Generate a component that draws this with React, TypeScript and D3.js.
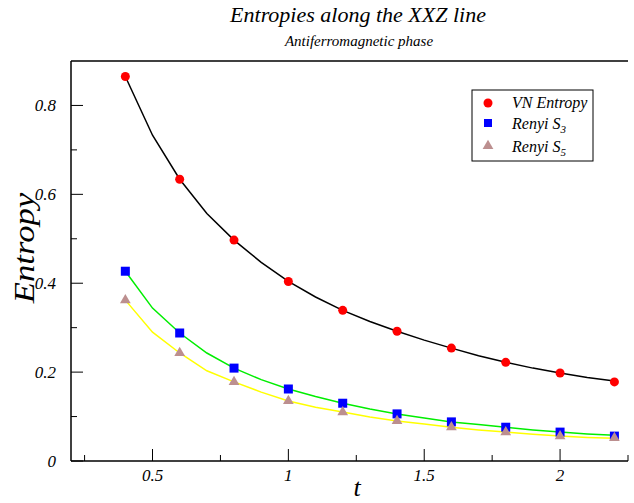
import React from 'react';
import * as d3 from 'd3';

// markers (computed points)
const markerT = [0.4, 0.6, 0.8, 1.0, 1.2, 1.4, 1.6, 1.8, 2.0, 2.2];
const vnPoints = [0.865, 0.634, 0.497, 0.404, 0.339, 0.292, 0.254, 0.222, 0.198, 0.178];
const s3Points = [0.427, 0.288, 0.209, 0.162, 0.130, 0.106, 0.088, 0.076, 0.065, 0.056];
const s5Points = [0.362, 0.243, 0.178, 0.135, 0.110, 0.090, 0.076, 0.065, 0.056, 0.052];

// curves (finer sampling)
const curveT = [0.4, 0.5, 0.6, 0.7, 0.8, 0.9, 1.0, 1.1, 1.2, 1.3, 1.4, 1.5, 1.6, 1.7, 1.8, 1.9, 2.0, 2.1, 2.2];
const vnCurve = [0.865, 0.733, 0.634, 0.557, 0.497, 0.447, 0.404, 0.369, 0.339, 0.314, 0.292, 0.272, 0.254, 0.237, 0.222, 0.209, 0.198, 0.188, 0.180];
const s3Curve = [0.427, 0.344, 0.288, 0.243, 0.209, 0.183, 0.162, 0.145, 0.130, 0.117, 0.106, 0.097, 0.088, 0.082, 0.076, 0.070, 0.065, 0.061, 0.058];
const s5Curve = [0.362, 0.290, 0.243, 0.203, 0.178, 0.155, 0.135, 0.121, 0.110, 0.099, 0.090, 0.083, 0.076, 0.070, 0.065, 0.060, 0.056, 0.053, 0.051];

const xMajor = [0.5, 1, 1.5, 2];
const xMinor = [0.25, 0.75, 1.25, 1.75, 2.25];
const yMajor = [0, 0.2, 0.4, 0.6, 0.8];
const yMinor = [0.1, 0.3, 0.5, 0.7];

const font = '"Liberation Serif", "DejaVu Serif", serif';

export default function App() {
  const left = 71, right = 628, top = 61, bottom = 461;
  const x = d3.scaleLinear().domain([0.2, 2.25]).range([left, right]);
  const y = d3.scaleLinear().domain([0, 0.9]).range([bottom, top]);

  const line = d3.line<number>().x((_, i) => x(curveT[i])).y(d => y(d));
  const tri = d3.symbol().type(d3.symbolTriangle).size(50)();

  return (
    <svg width={634} height={503} style={{ position: 'absolute', left: 0, top: 0 }} fontFamily={font}>
      <rect width={634} height={503} fill="#fff" />
      <text x={358} y={22} textAnchor="middle" fontSize={22} fontStyle="italic">Entropies along the XXZ line</text>
      <text x={359} y={46} textAnchor="middle" fontSize={15} fontStyle="italic">Antiferromagnetic phase</text>

      {/* frame */}
      <line x1={left} x2={right} y1={top} y2={top} stroke="#000" strokeWidth={1.5} />
      <line x1={left} x2={left} y1={top} y2={bottom} stroke="#000" strokeWidth={1.5} />
      <line x1={left} x2={right} y1={bottom} y2={bottom} stroke="#000" strokeWidth={1.5} />

      {/* x ticks */}
      {xMajor.map(v => (
        <g key={'xm' + v}>
          <line x1={x(v)} x2={x(v)} y1={bottom} y2={bottom - 12} stroke="#000" />
          <text x={x(v)} y={481} textAnchor="middle" fontSize={17} fontStyle="italic">{d3.format('')(v)}</text>
        </g>
      ))}
      {xMinor.map(v => (
        <line key={'xn' + v} x1={x(v)} x2={x(v)} y1={bottom} y2={bottom - 6} stroke="#000" />
      ))}
      {/* y ticks */}
      {yMajor.map(v => (
        <g key={'ym' + v}>
          <line x1={left} x2={left + 12} y1={y(v)} y2={y(v)} stroke="#000" />
          <text x={left - 15} y={y(v) + 6} textAnchor="end" fontSize={17} fontStyle="italic">{d3.format('')(v)}</text>
        </g>
      ))}
      {yMinor.map(v => (
        <line key={'yn' + v} x1={left} x2={left + 6} y1={y(v)} y2={y(v)} stroke="#000" />
      ))}

      <text x={357} y={496} textAnchor="middle" fontSize={26} fontStyle="italic">t</text>
      <text transform="translate(34,248) rotate(-90) scale(1.05,0.88)" textAnchor="middle" fontSize={33} fontStyle="italic">Entropy</text>

      {/* curves */}
      <path d={line(vnCurve) || ''} fill="none" stroke="#000" strokeWidth={1.5} />
      <path d={line(s3Curve) || ''} fill="none" stroke="#00ee00" strokeWidth={1.5} />
      <path d={line(s5Curve) || ''} fill="none" stroke="#ffff00" strokeWidth={1.5} />

      {/* markers */}
      {markerT.map((t, i) => (
        <circle key={'vn' + i} cx={x(t)} cy={y(vnPoints[i])} r={4.5} fill="#ff0000" />
      ))}
      {markerT.map((t, i) => (
        <rect key={'s3' + i} x={x(t) - 4.5} y={y(s3Points[i]) - 4.5} width={9} height={9} fill="#0000ff" />
      ))}
      {markerT.map((t, i) => (
        <path key={'s5' + i} d={tri || ''} transform={`translate(${x(t)},${y(s5Points[i])})`} fill="#bc8f8f" />
      ))}

      {/* legend */}
      <rect x={472} y={90} width={121} height={71} fill="#fff" stroke="#000" strokeWidth={1} />
      <circle cx={488} cy={103} r={4.5} fill="#ff0000" />
      <text x={512} y={108} fontSize={16} fontStyle="italic">VN Entropy</text>
      <rect x={484} y={119} width={8} height={8} fill="#0000ff" />
      <text x={512} y={129} fontSize={16} fontStyle="italic">Renyi S<tspan fontSize={11} dy={4}>3</tspan></text>
      <path d={tri || ''} transform="translate(488,146)" fill="#bc8f8f" />
      <text x={512} y={152} fontSize={16} fontStyle="italic">Renyi S<tspan fontSize={11} dy={4}>5</tspan></text>
    </svg>
  );
}
